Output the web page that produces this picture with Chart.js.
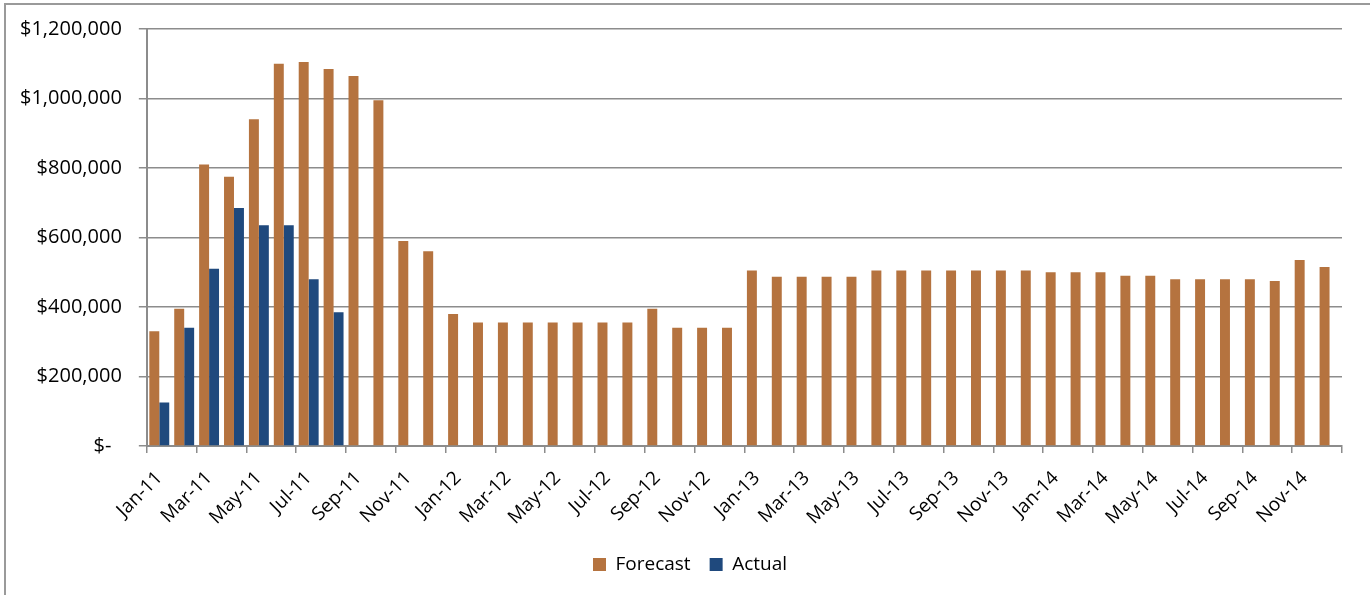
<!DOCTYPE html>
<html>
<head>
<meta charset="utf-8">
<title>Forecast vs Actual</title>
<script src="https://cdn.jsdelivr.net/npm/chart.js@4"></script>
<style>
    html, body { margin: 0; padding: 0; background: #fff; }
    #frame {
        position: absolute; left: 4px; top: 3px; width: 1380px; height: 600px;
        border-left: 2px solid #9a9a9a; border-top: 2px solid #9a9a9a;
    }
    #wrap { position: absolute; left: 0; top: 0; width: 1370px; height: 595px; }
</style>
</head>
<body>
<div id="frame"></div>
<div id="wrap"><canvas id="forecastChart"></canvas></div>
<script>
const months = [
    'Jan-11', 'Feb-11', 'Mar-11', 'Apr-11', 'May-11', 'Jun-11', 'Jul-11', 'Aug-11', 'Sep-11', 'Oct-11', 'Nov-11', 'Dec-11',
    'Jan-12', 'Feb-12', 'Mar-12', 'Apr-12', 'May-12', 'Jun-12', 'Jul-12', 'Aug-12', 'Sep-12', 'Oct-12', 'Nov-12', 'Dec-12',
    'Jan-13', 'Feb-13', 'Mar-13', 'Apr-13', 'May-13', 'Jun-13', 'Jul-13', 'Aug-13', 'Sep-13', 'Oct-13', 'Nov-13', 'Dec-13',
    'Jan-14', 'Feb-14', 'Mar-14', 'Apr-14', 'May-14', 'Jun-14', 'Jul-14', 'Aug-14', 'Sep-14', 'Oct-14', 'Nov-14', 'Dec-14'
];

const forecast = [
    330000, 395000, 810000, 775000, 940000, 1100000, 1105000, 1085000, 1065000, 995000, 590000, 560000,
    380000, 355000, 355000, 355000, 355000, 355000, 355000, 355000, 395000, 340000, 340000, 340000,
    505000, 487000, 487000, 487000, 487000, 505000, 505000, 505000, 505000, 505000, 505000, 505000,
    500000, 500000, 500000, 490000, 490000, 480000, 480000, 480000, 480000, 475000, 535000, 515000
];

const actual = [
    125000, 340000, 510000, 685000, 635000, 635000, 480000, 385000, null, null, null, null,
    null, null, null, null, null, null, null, null, null, null, null, null,
    null, null, null, null, null, null, null, null, null, null, null, null,
    null, null, null, null, null, null, null, null, null, null, null, null
];

const yTicks = [0, 200000, 400000, 600000, 800000, 1000000, 1200000];

const forecastColor = '#B5733F';
const actualColor = '#1F497D';
const lineColor = '#8c8c8c';
const fontFamily = "'Open Sans', sans-serif";

function formatMoney(value) {
    if (value === 0) return '$-  ';
    return '$' + value.toLocaleString('en-US');
}

function renderChart() {
    const ctx = document.getElementById('forecastChart').getContext('2d');
    new Chart(ctx, {
        type: 'bar',
        data: {
            labels: months,
            datasets: [
                {
                    label: 'Forecast',
                    data: forecast,
                    backgroundColor: forecastColor,
                    barPercentage: 1,
                    categoryPercentage: 0.8,
                },
                {
                    label: 'Actual',
                    data: actual,
                    backgroundColor: actualColor,
                    barPercentage: 1,
                    categoryPercentage: 0.8,
                },
            ],
        },
        options: {
            responsive: true,
            maintainAspectRatio: false,
            animation: false,
            layout: {
                padding: { left: 20, right: 10, top: 27, bottom: 11 }
            },
            plugins: {
                legend: {
                    position: 'bottom',
                    labels: {
                        boxWidth: 13,
                        boxHeight: 13,
                        padding: 19,
                        color: '#000',
                        font: { family: fontFamily, size: 19 }
                    }
                },
                tooltip: { enabled: false }
            },
            scales: {
                x: {
                    // Chart.js counts tick padding twice; trim the axis a bit so the plot reaches the reference height
                    afterFit: (scale) => {
                        scale.height -= 7;
                        scale.paddingRight = 28;
                    },
                    grid: {
                        offset: true,
                        drawOnChartArea: false,
                        tickLength: 7,
                        lineWidth: 1.5,
                        color: (c) => (c.index === undefined || c.index % 2 === 0) ? lineColor : 'rgba(0,0,0,0)'
                    },
                    border: { color: lineColor, width: 2 },
                    ticks: {
                        autoSkip: false,
                        maxRotation: 45,
                        minRotation: 45,
                        padding: 14,
                        color: '#000',
                        font: { family: fontFamily, size: 19 },
                        callback: (value, index) => index % 2 === 0 ? months[index] : ''
                    }
                },
                y: {
                    min: 0,
                    max: 1200000,
                    afterBuildTicks: (axis) => { axis.ticks = yTicks.map(v => ({ value: v })); },
                    afterFit: (scale) => { scale.width -= 17; },
                    grid: { color: lineColor, lineWidth: 1.5, tickLength: 8 },
                    border: { color: lineColor, width: 2 },
                    ticks: {
                        padding: 17,
                        color: '#000',
                        font: { family: fontFamily, size: 20 },
                        callback: (value) => formatMoney(value)
                    }
                }
            }
        }
    });
}

// make sure the installed font is ready before Chart.js measures text
Promise.all([
    document.fonts.load('19px "Open Sans"'),
    document.fonts.load('20px "Open Sans"')
]).then(renderChart, renderChart);
</script>
</body>
</html>
